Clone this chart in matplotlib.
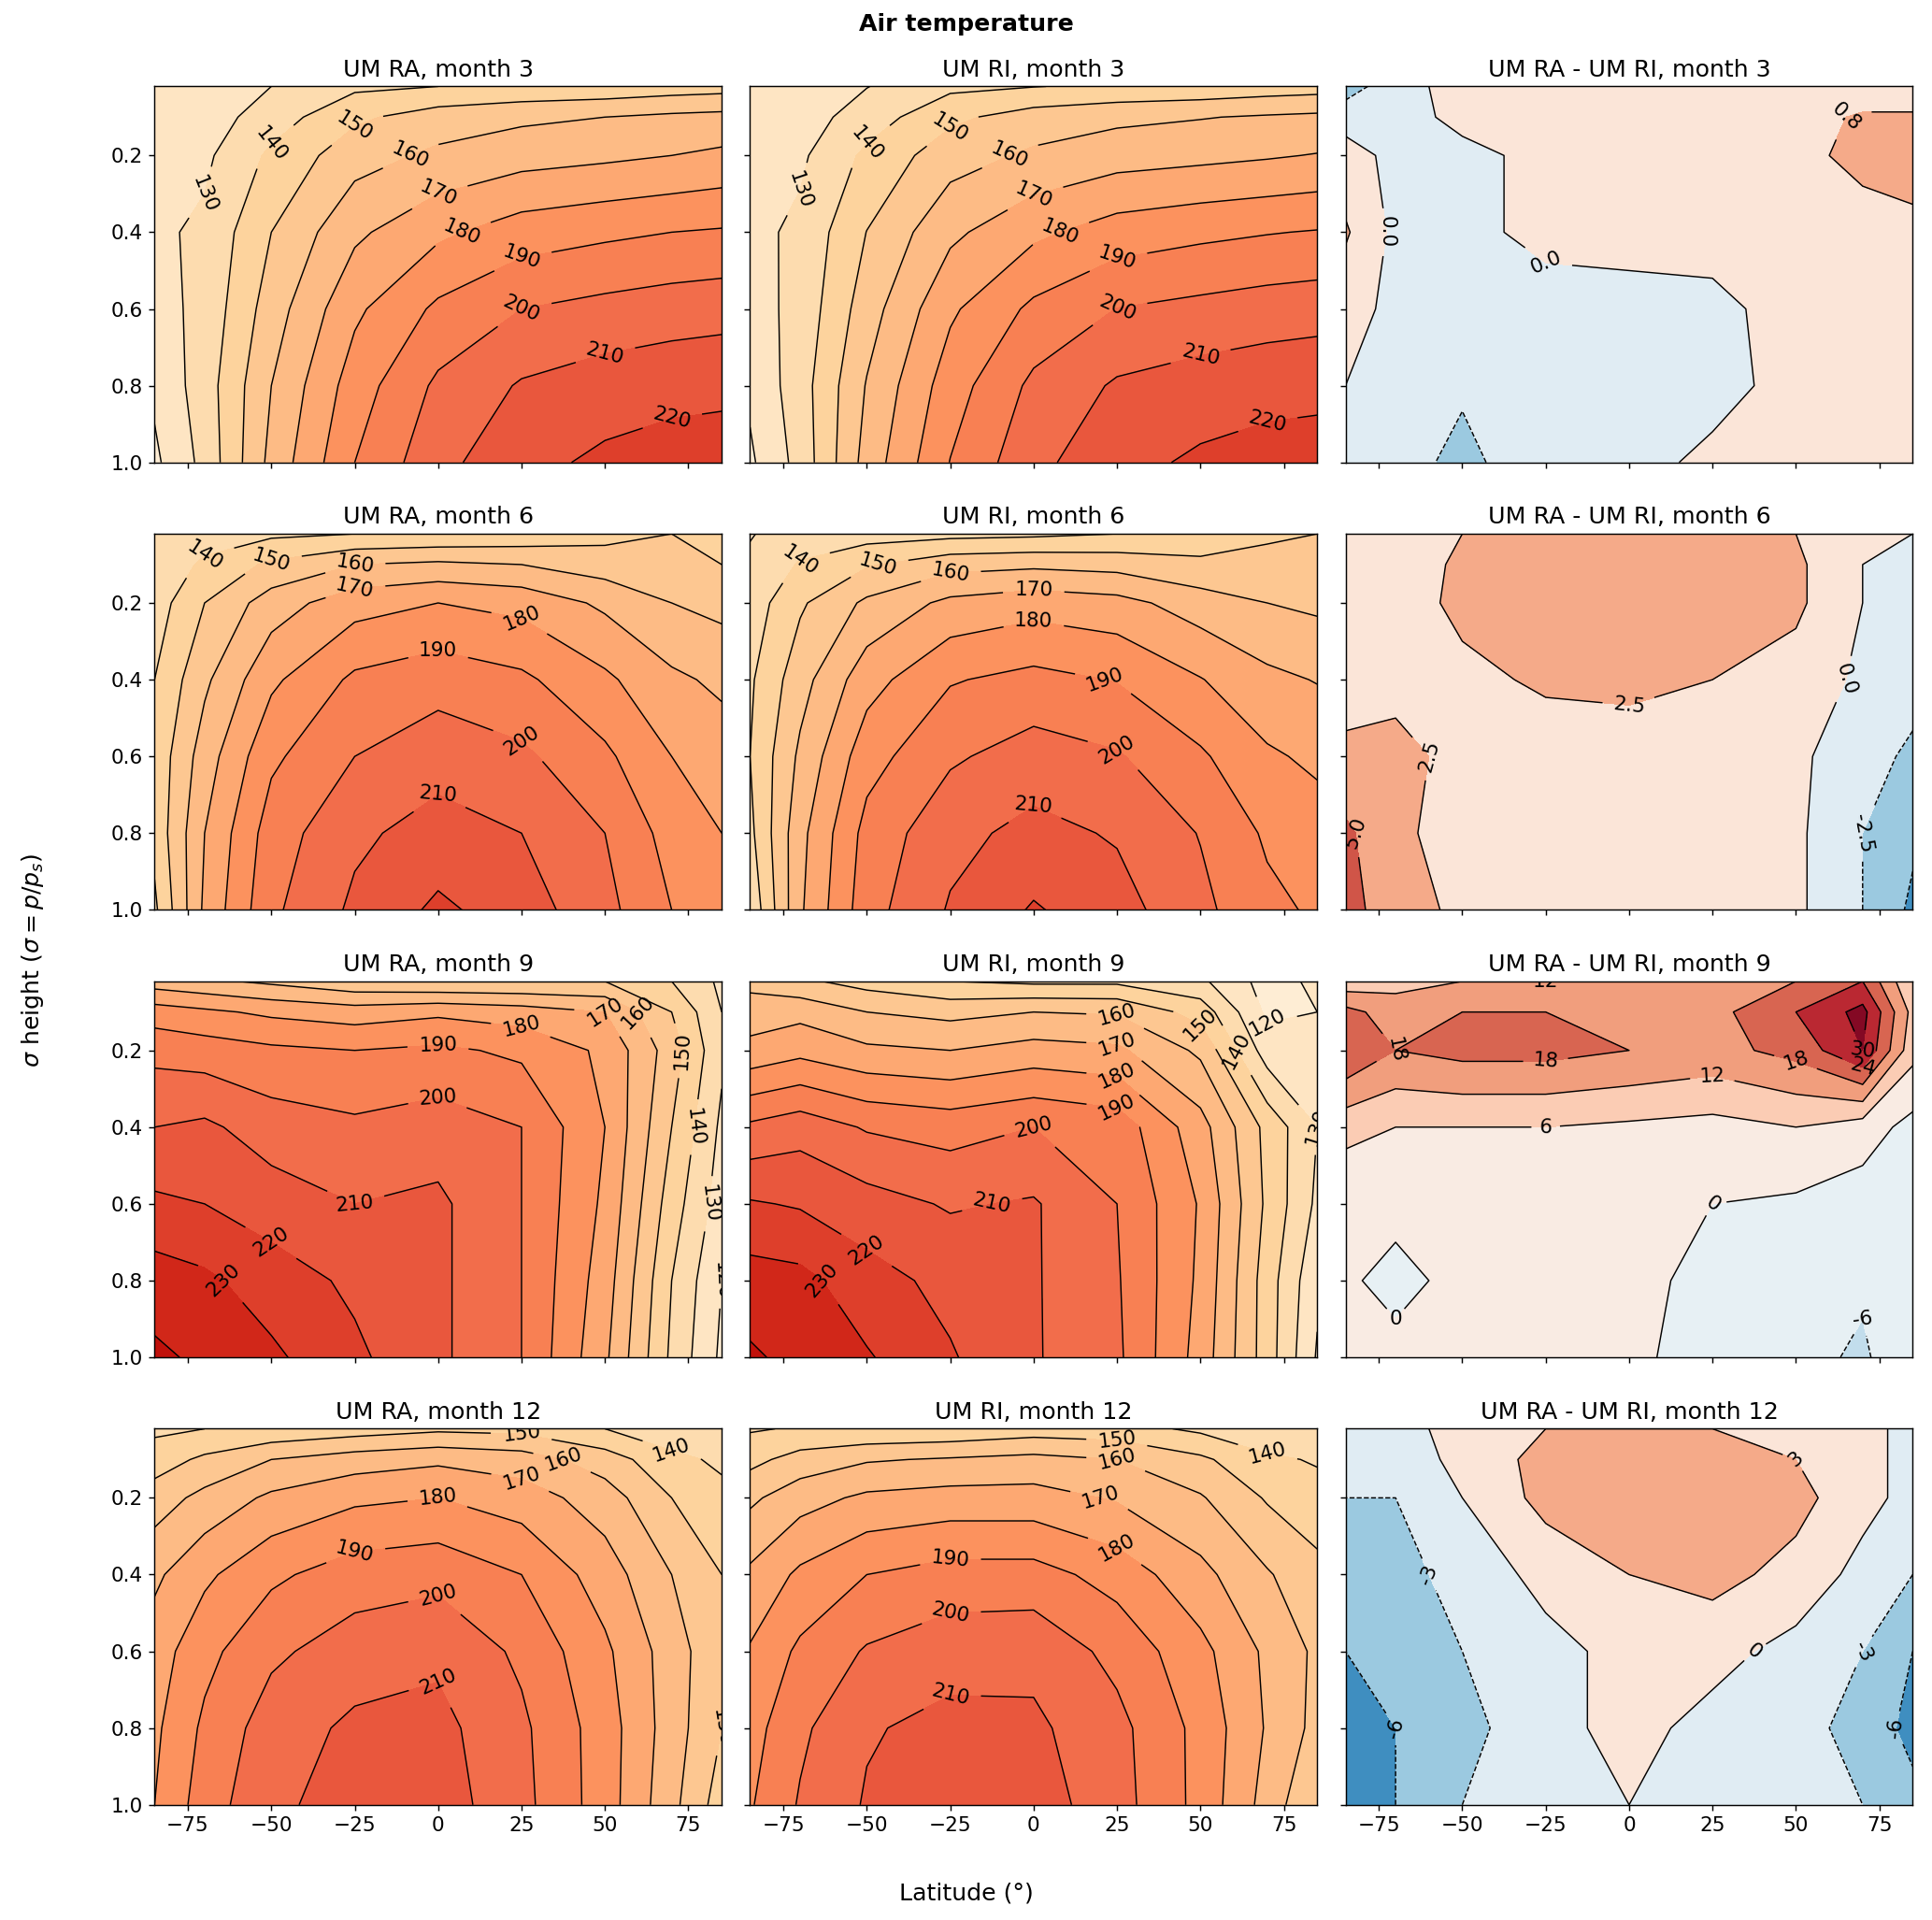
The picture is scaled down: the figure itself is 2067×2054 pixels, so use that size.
import numpy as np
import matplotlib.pyplot as plt

lat = [-85, -70, -50, -25, 0, 25, 50, 70, 85]
sigma = [0.02, 0.1, 0.2, 0.4, 0.6, 0.8, 1.0]
months = [3, 6, 9, 12]

# UM RA zonal-mean temperature (K), rows = sigma, cols = lat
ra_m3 = [[125, 122, 130, 138, 140, 142, 143, 145, 146],
         [125, 125, 135, 148, 155, 158, 160, 162, 163],
         [127, 128, 142, 156, 162, 166, 168, 170, 172],
         [128, 132, 150, 168, 178, 185, 188, 190, 191],
         [126, 133, 155, 178, 192, 200, 203, 205, 206],
         [122, 135, 160, 185, 202, 211, 215, 217, 218],
         [118, 133, 163, 190, 207, 217, 222, 224, 224]]
ra_m6 = [[130, 135, 138, 140, 141, 143, 147, 150, 150],
         [132, 142, 152, 160, 162, 160, 155, 152, 150],
         [135, 150, 165, 176, 180, 177, 168, 160, 157],
         [140, 158, 178, 192, 196, 192, 182, 172, 168],
         [143, 165, 188, 200, 206, 202, 192, 180, 175],
         [143, 170, 195, 208, 214, 210, 200, 186, 180],
         [138, 172, 198, 212, 222, 215, 203, 190, 183]]
ra_m9 = [[165, 162, 158, 152, 150, 150, 150, 140, 128],
         [185, 182, 178, 175, 178, 175, 170, 150, 130],
         [197, 195, 192, 190, 192, 188, 178, 155, 132],
         [210, 212, 205, 202, 205, 200, 180, 150, 128],
         [222, 220, 215, 210, 212, 200, 178, 145, 125],
         [235, 232, 225, 218, 212, 200, 175, 140, 120],
         [242, 238, 232, 222, 212, 200, 172, 138, 118]]
ra_m12 = [[138, 140, 142, 145, 148, 147, 140, 133, 130],
          [145, 152, 160, 165, 168, 165, 155, 143, 138],
          [155, 163, 172, 178, 180, 175, 165, 150, 143],
          [168, 178, 188, 195, 197, 190, 175, 160, 150],
          [175, 187, 198, 205, 208, 198, 182, 165, 152],
          [178, 192, 205, 212, 213, 202, 185, 165, 150],
          [180, 195, 208, 214, 215, 203, 185, 163, 145]]

# UM RA - UM RI difference (K)
diff_m3 = [[-1.2, -0.3, 0.3, 0.3, 0.3, 0.3, 0.3, 0.3, 0.3],
           [-0.3, -0.3, 0.2, 0.3, 0.3, 0.3, 0.5, 0.9, 0.9],
           [0.3, -0.2, -0.2, 0.2, 0.3, 0.3, 0.6, 1.0, 1.5],
           [0.9, -0.2, -0.2, 0.2, 0.2, 0.3, 0.3, 0.5, 0.4],
           [0.3, -0.2, -0.3, -0.3, -0.2, -0.2, 0.3, 0.3, 0.3],
           [0.0, -0.3, -0.7, -0.3, -0.3, -0.3, 0.3, 0.3, 0.3],
           [-0.3, -0.5, -1.0, -0.3, -0.3, 0.2, 0.3, 0.3, 0.3]]
diff_m6 = [[0.5, 1, 2.5, 3, 3, 3, 2.5, 1, 0],
           [0.5, 1, 3, 3.5, 4, 3.5, 3, 0, -1],
           [0.5, 1.5, 3, 3.5, 4, 3.5, 3, 0, -1],
           [1.5, 2, 2, 2.8, 3, 2.5, 1.5, -0.5, -1.5],
           [3, 3, 2, 1.5, 1.5, 1, 0.5, -1.5, -3],
           [5.5, 3, 1.5, 1, 1, 1, 0.5, -2.5, -4.5],
           [6, 3.5, 2, 1, 1, 1, 0.5, -2.5, -5.5]]
diff_m9 = [[8, 10, 12, 12, 12, 12, 18, 24, 6],
           [20, 15, 18, 18, 18, 16, 24, 32, 10],
           [24, 18, 20, 20, 18, 16, 20, 30, 8],
           [8, 6, 6, 6, 5, 4, 6, 3, -2],
           [1, 1, 1, 1, 1, 0, -1, -3, -3],
           [0.5, -1, 1, 1, 1, -1, -3, -5, -2],
           [0.5, 1, 1, 1, 1, -2, -4, -7, -1]]
diff_m12 = [[-1, -1, 1, 3, 3, 3, 2, 1, -1],
            [-2, -2, 1, 4, 5, 5, 3, 1, -1],
            [-3, -3, 0, 4, 6, 6, 4, 1, -1],
            [-4, -4, -2, 1, 3, 4, 2, -1, -3],
            [-6, -5, -3, -1, 1, 1, -1, -3, -6],
            [-8, -6, -4, -1, 1, -1, -2, -4, -7],
            [-9, -6, -3, -1, 0, -1, -2, -3, -5]]

ra_all = [ra_m3, ra_m6, ra_m9, ra_m12]
diff_all = [diff_m3, diff_m6, diff_m9, diff_m12]
diff_step = [0.8, 2.5, 6, 3]
diff_nstep = [4, 4, 6, 4]
diff_fmt = ["%.1f", "%.1f", "%d", "%d"]

temp_levels = np.arange(110, 260, 10)

fig, axes = plt.subplots(4, 3, figsize=(15.9, 15.8), dpi=130, sharex=True, sharey=True)
X, Y = np.meshgrid(lat, sigma)

for i, m in enumerate(months):
    ra = np.array(ra_all[i], dtype=float)
    d = np.array(diff_all[i], dtype=float)
    ri = ra - d
    for j, (field, name) in enumerate([(ra, f"UM RA, month {m}"), (ri, f"UM RI, month {m}")]):
        ax = axes[i, j]
        ax.contourf(X, Y, field, levels=temp_levels, cmap="OrRd", vmin=100, vmax=275)
        cs = ax.contour(X, Y, field, levels=temp_levels, colors="k", linewidths=0.8)
        ax.clabel(cs, fmt="%d", fontsize=12)
        ax.set_title(name, fontsize=14)
    ax = axes[i, 2]
    lv = np.arange(-diff_nstep[i], diff_nstep[i] + 1) * diff_step[i]
    ax.contourf(X, Y, d, levels=lv, cmap="RdBu_r", vmin=lv[0], vmax=lv[-1])
    cs = ax.contour(X, Y, d, levels=lv, colors="k", linewidths=0.8)
    ax.clabel(cs, fmt=diff_fmt[i], fontsize=12)
    ax.set_title(f"UM RA - UM RI, month {m}", fontsize=14)

for ax in axes.flat:
    ax.set_xlim(-85, 85)
    ax.set_ylim(1.0, 0.02)
    ax.set_xticks([-75, -50, -25, 0, 25, 50, 75])
    ax.set_yticks([0.2, 0.4, 0.6, 0.8, 1.0])
    ax.tick_params(labelsize=12)

fig.suptitle("Air temperature", fontweight="bold", fontsize=14, y=0.993)
fig.supxlabel("Latitude (°)", fontsize=14, y=0.008)
fig.supylabel(r"$\sigma$ height ($\sigma = p/p_s$)", fontsize=14, x=0.01)
fig.subplots_adjust(left=0.08, right=0.99, bottom=0.06, top=0.955, wspace=0.05, hspace=0.19)
fig.savefig("out.png")
